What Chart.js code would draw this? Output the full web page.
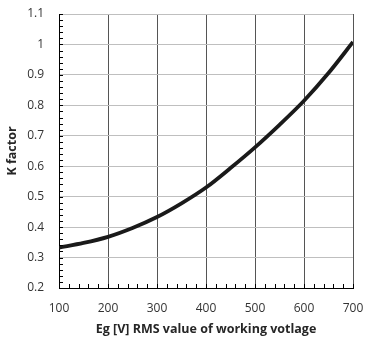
<!DOCTYPE html>
<html>
<head>
<meta charset="utf-8">
<script src="https://cdn.jsdelivr.net/npm/chart.js@4"></script>
<style>
html,body{margin:0;padding:0;background:#fff;}
#wrap{width:365px;height:340px;position:relative;}
</style>
</head>
<body>
<div id="wrap"><canvas id="c" width="365" height="340"></canvas></div>
<script>
const voltages = [100, 150, 200, 250, 300, 350, 400, 450, 500, 550, 600, 650, 700];
const kFactor  = [0.333, 0.348, 0.368, 0.397, 0.433, 0.478, 0.530, 0.594, 0.662, 0.736, 0.815, 0.906, 1.008];
const xTicks = [100, 200, 300, 400, 500, 600, 700];
const yTicks = [0.2, 0.3, 0.4, 0.5, 0.6, 0.7, 0.8, 0.9, 1, 1.1];
const xTitle = 'Eg [V] RMS value of working votlage';
const yTitle = 'K factor';

const FONT = '"Open Sans", Lato, sans-serif';

const minorTicks = {
  id: 'minorTicks',
  afterDraw(chart) {
    const ctx = chart.ctx;
    const xs = chart.scales.x, ys = chart.scales.y;
    ctx.save();
    ctx.strokeStyle = '#000';
    ctx.lineWidth = 1;
    ctx.beginPath();
    for (let v = xTicks[0]; v <= xTicks[xTicks.length-1] + 1e-9; v += 20) {
      const px = Math.round(xs.getPixelForValue(v)) + 0.5;
      ctx.moveTo(px, ys.bottom);
      ctx.lineTo(px, ys.bottom - 4);
    }
    for (let i = 0; i <= 45; i++) {
      const v = 0.2 + i * 0.02;
      const py = Math.round(ys.getPixelForValue(v)) + 0.5;
      ctx.moveTo(xs.left, py);
      ctx.lineTo(xs.left + 4, py);
    }
    ctx.stroke();
    ctx.restore();
  }
};

new Chart(document.getElementById('c'), {
  type: 'line',
  data: {
    labels: voltages,
    datasets: [{
      data: voltages.map((v, i) => ({x: v, y: kFactor[i]})),
      borderColor: '#1a1a1a',
      borderWidth: 3.8,
      pointRadius: 0,
      fill: false,
      cubicInterpolationMode: 'monotone'
    }]
  },
  options: {
    responsive: false,
    animation: false,
    devicePixelRatio: 1,
    layout: { padding: { left: 0, right: 12, top: 14, bottom: 0 } },
    plugins: { legend: { display: false }, tooltip: { enabled: false } },
    scales: {
      x: {
        type: 'linear',
        min: 100, max: 700,
        afterFit(s) { s.height = 52; s.paddingLeft = 0; s.paddingRight = 0; },
        afterBuildTicks(s) { s.ticks = xTicks.map(v => ({value: v})); },
        ticks: { color: '#333', font: { family: FONT, size: 12 }, padding: 13, maxRotation: 0 },
        grid: { color: '#555', lineWidth: 1, drawTicks: false },
        border: { color: '#000', width: 1 },
        title: { display: true, text: xTitle, color: '#262626', font: { family: FONT, size: 12.5, weight: 'bold' }, padding: { top: 0, bottom: 3 } }
      },
      y: {
        type: 'linear',
        min: 0.2, max: 1.1,
        afterFit(s) { s.width = 59; s.paddingTop = 0; s.paddingBottom = 0; },
        afterBuildTicks(s) { s.ticks = yTicks.map(v => ({value: v})); },
        ticks: { color: '#333', font: { family: FONT, size: 12 }, padding: 15, callback: v => String(Math.round(v * 10) / 10) },
        grid: { color: '#bfbfbf', lineWidth: 1, drawTicks: false },
        border: { color: '#000', width: 1 },
        title: { display: true, text: yTitle, color: '#262626', font: { family: FONT, size: 12.5, weight: 'bold' }, padding: { top: 5, bottom: 0 } }
      }
    }
  },
  plugins: [minorTicks]
});
</script>
</body>
</html>
